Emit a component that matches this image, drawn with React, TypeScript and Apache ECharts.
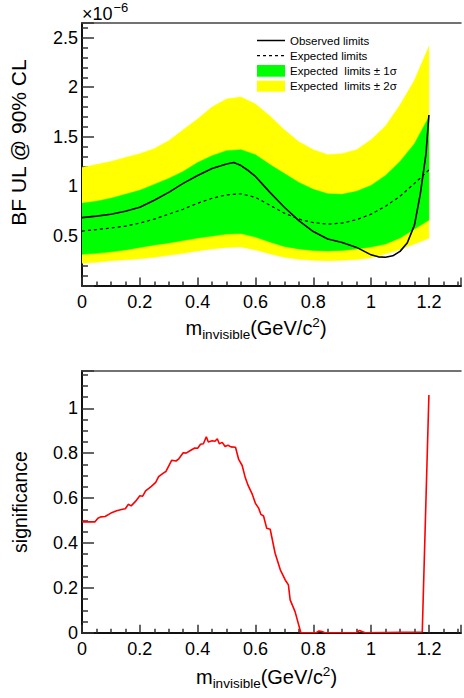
import React, { useEffect, useRef } from "react";
import * as echarts from "echarts";

// ---------- data (upper limits in units of 1e-6) ----------
const massGrid = [0, 0.05, 0.1, 0.15, 0.2, 0.25, 0.3, 0.35, 0.4, 0.45, 0.5, 0.55, 0.6, 0.65, 0.7, 0.75, 0.8, 0.85, 0.9, 0.95, 1.0, 1.05, 1.1, 1.15, 1.2];
const expUp2 = [1.19, 1.22, 1.25, 1.29, 1.33, 1.38, 1.46, 1.57, 1.68, 1.8, 1.88, 1.9, 1.83, 1.71, 1.57, 1.45, 1.37, 1.32, 1.33, 1.37, 1.47, 1.61, 1.82, 2.07, 2.41];
const expUp1 = [0.83, 0.85, 0.88, 0.92, 0.96, 1.02, 1.08, 1.15, 1.24, 1.31, 1.36, 1.37, 1.32, 1.22, 1.13, 1.04, 0.97, 0.925, 0.92, 0.95, 1.01, 1.11, 1.25, 1.43, 1.7];
const expMedian = [0.55, 0.565, 0.58, 0.6, 0.63, 0.67, 0.72, 0.77, 0.83, 0.88, 0.915, 0.925, 0.89, 0.81, 0.73, 0.67, 0.635, 0.62, 0.63, 0.665, 0.72, 0.8, 0.9, 1.03, 1.165];
const expLo1 = [0.315, 0.325, 0.34, 0.36, 0.385, 0.41, 0.43, 0.455, 0.48, 0.5, 0.52, 0.525, 0.49, 0.44, 0.395, 0.37, 0.355, 0.35, 0.355, 0.37, 0.39, 0.42, 0.48, 0.57, 0.66];
const expLo2 = [0.225, 0.235, 0.25, 0.26, 0.27, 0.285, 0.305, 0.325, 0.35, 0.37, 0.385, 0.39, 0.36, 0.32, 0.285, 0.265, 0.255, 0.25, 0.255, 0.262, 0.28, 0.32, 0.365, 0.42, 0.477];

const obsMass = [0, 0.05, 0.1, 0.15, 0.2, 0.25, 0.3, 0.35, 0.4, 0.45, 0.5, 0.525, 0.55, 0.575, 0.6, 0.625, 0.65, 0.7, 0.75, 0.8, 0.85, 0.9, 0.95, 1.0, 1.025, 1.05, 1.075, 1.1, 1.125, 1.15, 1.17, 1.19, 1.2];
const obsLimit = [0.685, 0.7, 0.72, 0.75, 0.79, 0.86, 0.94, 1.03, 1.11, 1.18, 1.225, 1.24, 1.21, 1.16, 1.1, 1.02, 0.94, 0.79, 0.655, 0.545, 0.47, 0.435, 0.385, 0.31, 0.29, 0.285, 0.3, 0.345, 0.43, 0.61, 0.92, 1.33, 1.72];

const sigMass = [0, 0.045, 0.055, 0.065, 0.08, 0.1, 0.12, 0.14, 0.15, 0.16, 0.17, 0.185, 0.2, 0.21, 0.22, 0.24, 0.255, 0.265, 0.28, 0.29, 0.31, 0.325, 0.335, 0.35, 0.36, 0.375, 0.39, 0.4, 0.41, 0.42, 0.43, 0.437, 0.45, 0.46, 0.468, 0.475, 0.485, 0.495, 0.505, 0.515, 0.531, 0.542, 0.554, 0.565, 0.575, 0.588, 0.6, 0.611, 0.619, 0.628, 0.639, 0.651, 0.668, 0.686, 0.703, 0.714, 0.72, 0.737, 0.757, 0.81, 0.82, 0.83, 0.84, 0.95, 0.96, 0.97, 0.98, 1.177, 1.2];
const sigValue = [0.494, 0.494, 0.51, 0.516, 0.518, 0.533, 0.543, 0.55, 0.552, 0.572, 0.565, 0.585, 0.61, 0.608, 0.632, 0.652, 0.67, 0.695, 0.71, 0.718, 0.768, 0.765, 0.775, 0.802, 0.8, 0.812, 0.823, 0.822, 0.84, 0.842, 0.873, 0.85, 0.855, 0.853, 0.864, 0.842, 0.848, 0.83, 0.835, 0.828, 0.826, 0.772, 0.745, 0.69, 0.655, 0.62, 0.576, 0.555, 0.527, 0.52, 0.465, 0.461, 0.354, 0.28, 0.235, 0.213, 0.146, 0.094, 0.0, 0.0, 0.008, 0.005, 0.0, 0.0, 0.01, 0.004, 0.0, 0.003, 1.059];

const xTickLabels = ["0", "0.2", "0.4", "0.6", "0.8", "1", "1.2"];
const topYTickLabels = ["0.5", "1", "1.5", "2", "2.5"];
const botYTickLabels = ["0", "0.2", "0.4", "0.6", "0.8", "1"];

const legendLabels = ["Observed limits", "Expected limits", "Expected  limits \u00b1 1\u03c3", "Expected  limits \u00b1 2\u03c3"];

const FONT = '"Liberation Sans", Arial, Helvetica, sans-serif';
const GREEN = "#00ff00";
const YELLOW = "#ffff00";
const X_MAX = 1.311;

const pairs = (xs: number[], ys: number[]) => xs.map((x, i) => [x, ys[i]]);
const fmt = (labels: string[]) => (v: number) => {
  const s = String(+v.toFixed(3));
  return labels.includes(s) ? s : "";
};

const bandSeries = (lo: number[], hi: number[], color: string) => ({
  type: "custom",
  xAxisIndex: 0,
  yAxisIndex: 0,
  silent: true,
  clip: true,
  data: massGrid.map((x, i) => [x, lo[i], hi[i]]),
  encode: { x: 0, y: [1, 2] },
  renderItem: (params: any, api: any) => {
    if (params.dataIndex !== 0) return null;
    const upper = massGrid.map((x, i) => api.coord([x, hi[i]]));
    const lower = massGrid.map((x, i) => api.coord([x, lo[i]])).reverse();
    return { type: "polygon", shape: { points: upper.concat(lower) }, style: { fill: color, stroke: color, lineWidth: 0.5 } };
  },
});

export default function App() {
  const ref = useRef<HTMLDivElement>(null);
  useEffect(() => {
    const chart = echarts.init(ref.current!, undefined, { renderer: "svg" });
    const xAxisCommon = (gridIndex: number) => ({
      type: "value" as const,
      gridIndex,
      min: 0,
      max: X_MAX,
      interval: 0.2,
      axisLine: { show: true, onZero: false, lineStyle: { color: "#111", width: 2 } },
      axisTick: { show: true, inside: true, length: 8, lineStyle: { color: "#333", width: 1.5 } },
      minorTick: { show: true, splitNumber: 4, length: 4, lineStyle: { color: "#333", width: 1.5 } },
      splitLine: { show: false },
      axisLabel: { margin: 7, fontSize: 18, color: "#000", fontFamily: FONT, formatter: fmt(xTickLabels) },
    });
    const frameAxis = (gridIndex: number) => ({
      type: "value" as const,
      gridIndex,
      position: "top" as const,
      min: 0,
      max: X_MAX,
      axisLine: { show: true, onZero: false, lineStyle: { color: "#444", width: 1.5 } },
      axisTick: { show: false },
      axisLabel: { show: false },
      splitLine: { show: false },
    });
    const yAxisCommon = (gridIndex: number, max: number, interval: number, split: number, labels: string[]) => ({
      type: "value" as const,
      gridIndex,
      min: 0,
      max,
      interval,
      axisLine: { show: true, onZero: false, lineStyle: { color: "#111", width: 2 } },
      axisTick: { show: true, inside: true, length: 12, lineStyle: { color: "#333", width: 1.5 } },
      minorTick: { show: true, splitNumber: split, length: 6, lineStyle: { color: "#333", width: 1.5 } },
      splitLine: { show: false },
      axisLabel: { margin: 4, fontSize: 18, color: "#000", fontFamily: FONT, formatter: fmt(labels) },
    });
    const xTitle = (cx: number, cy: number) => ({
      type: "text",
      x: cx,
      y: cy,
      style: {
        text: "{m|m}{s|invisible}{m|(GeV/c}{p|2}{m|)}",
        align: "center",
        verticalAlign: "middle",
        fill: "#000",
        rich: {
          m: { fontSize: 20, lineHeight: 26, fontFamily: FONT, fill: "#000" },
          s: { fontSize: 13.5, lineHeight: 12, verticalAlign: "bottom", fontFamily: FONT, fill: "#000" },
          p: { fontSize: 13.5, lineHeight: 20, verticalAlign: "top", fontFamily: FONT, fill: "#000" },
        },
      },
    });
    const legendX1 = 257, legendX2 = 285, legendTextX = 290;
    const legendY = [40.5, 55.7, 71, 86.3];
    chart.setOption({
      animation: false,
      backgroundColor: "#fff",
      grid: [
        { left: 82, top: 23, right: 0, height: 262.6 },
        { left: 82, top: 371, right: 0, height: 261.7 },
      ],
      xAxis: [xAxisCommon(0), xAxisCommon(1), frameAxis(0), frameAxis(1)],
      yAxis: [
        yAxisCommon(0, 2.647, 0.5, 5, topYTickLabels),
        yAxisCommon(1, 1.166, 0.2, 4, botYTickLabels),
      ],
      series: [
        bandSeries(expLo2, expUp2, YELLOW),
        bandSeries(expLo1, expUp1, GREEN),
        { type: "line", name: "Expected limits", xAxisIndex: 0, yAxisIndex: 0, symbol: "none", lineStyle: { color: "#000", width: 1.2, type: [3, 3] }, data: pairs(massGrid, expMedian) },
        { type: "line", name: "Observed limits", xAxisIndex: 0, yAxisIndex: 0, symbol: "none", lineStyle: { color: "#000", width: 1.6 }, data: pairs(obsMass, obsLimit) },
        { type: "line", name: "significance", xAxisIndex: 1, yAxisIndex: 1, symbol: "none", lineStyle: { color: "#ff0000", width: 1.6 }, data: pairs(sigMass, sigValue) },
      ],
      graphic: [
        { type: "text", x: 82, y: 14.4, style: { text: "\u00d710", fontSize: 18, fontFamily: FONT, fill: "#000", verticalAlign: "middle", align: "left" } },
        { type: "text", x: 113.5, y: 7, style: { text: "\u22126", fontSize: 13, fontFamily: FONT, fill: "#000", verticalAlign: "middle", align: "left" } },
        { type: "text", x: 18, y: 142.5, rotation: Math.PI / 2, style: { text: "BF UL @ 90% CL", fontSize: 21, fontFamily: FONT, fill: "#000", align: "center", verticalAlign: "middle" } },
        { type: "text", x: 20, y: 502, rotation: Math.PI / 2, style: { text: "significance", fontSize: 19.5, fontFamily: FONT, fill: "#000", align: "center", verticalAlign: "middle" } },
        xTitle(256, 328),
        xTitle(266.5, 677),
        { type: "line", shape: { x1: legendX1, y1: legendY[0], x2: legendX2, y2: legendY[0] }, style: { stroke: "#000", lineWidth: 1.5 } },
        { type: "line", shape: { x1: legendX1, y1: legendY[1], x2: legendX2, y2: legendY[1] }, style: { stroke: "#000", lineWidth: 1.2, lineDash: [3, 3] } },
        { type: "rect", shape: { x: legendX1, y: 65, width: legendX2 - legendX1, height: 11.7 }, style: { fill: GREEN } },
        { type: "rect", shape: { x: legendX1, y: 80.7, width: legendX2 - legendX1, height: 11 }, style: { fill: YELLOW } },
        ...legendLabels.map((t, i) => ({ type: "text", x: legendTextX, y: legendY[i], style: { text: t, fontSize: 11.5, fontFamily: FONT, fill: "#000", verticalAlign: "middle", align: "left" } })),
      ],
    });
    return () => chart.dispose();
  }, []);
  return <div ref={ref} style={{ position: "fixed", left: 0, top: 0, width: 464, height: 698 }} />;
}
